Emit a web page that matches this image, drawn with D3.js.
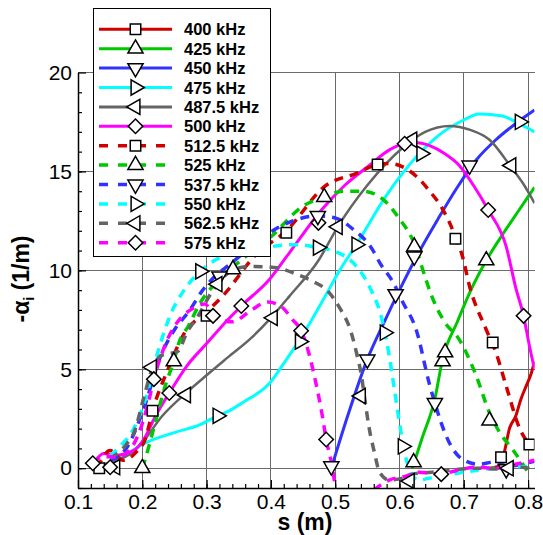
<!DOCTYPE html>
<html>
<head>
<meta charset="utf-8">
<script src="https://cdn.jsdelivr.net/npm/d3@7"></script>
<style>
body { margin: 0; background: #fff; }
text { font-family: "Liberation Sans", Arial, sans-serif; }
</style>
</head>
<body>
<script>
// frequencies in the legend order
var labels = ["400 kHz", "425 kHz", "450 kHz", "475 kHz", "487.5 kHz", "500 kHz",
              "512.5 kHz", "525 kHz", "537.5 kHz", "550 kHz", "562.5 kHz", "575 kHz"];

// curves, [s, -alpha_i]
var data400 = [[0.74,0],[0.755,0.1],[0.763,0.8],[0.771,2.0],[0.781,2.65],[0.789,3.5],[0.797,4.15],[0.805,4.8],[0.81,5.4]];
var data425 = [[0.62,0],[0.635,1.5],[0.655,3.5],[0.667,5.5],[0.69,7.4],[0.711,9.0],[0.735,10.5],[0.76,11.8],[0.785,13.0],[0.81,14.2]];
var data450 = [[0.494,0],[0.52,2.7],[0.55,5.5],[0.575,7.3],[0.6,9.0],[0.63,10.9],[0.66,12.6],[0.69,14.2],[0.72,15.6],[0.75,16.6],[0.78,17.4],[0.81,18.1]];
var data475 = [[0.155,0.4],[0.18,0.8],[0.2,1.2],[0.25,1.8],[0.29,2.2],[0.317,2.65],[0.335,2.9],[0.36,3.4],[0.38,3.8],[0.398,4.3],[0.42,5.3],[0.445,6.5],[0.488,8.9],[0.507,10.0],[0.533,11.3],[0.58,13.8],[0.628,15.8],[0.66,16.8],[0.7,17.6],[0.724,17.9],[0.76,17.8],[0.787,17.4],[0.81,17.0]];
var data487 = [[0.14,0.2],[0.16,0.4],[0.18,0.7],[0.2,1.3],[0.23,2.6],[0.268,3.8],[0.3,4.7],[0.333,5.6],[0.37,6.6],[0.4,7.6],[0.429,8.7],[0.475,10.55],[0.504,12.2],[0.55,14.3],[0.605,16.2],[0.64,17.0],[0.678,17.3],[0.71,17.1],[0.74,16.6],[0.774,15.2],[0.792,14.4],[0.81,13.4]];
var data500 = [[0.125,0.3],[0.14,0.75],[0.157,0.65],[0.187,0.9],[0.203,1.5],[0.22,2.6],[0.242,3.8],[0.27,5.2],[0.3,6.3],[0.333,7.5],[0.354,8.2],[0.398,9.55],[0.429,10.9],[0.48,13.1],[0.515,14.3],[0.553,15.3],[0.585,16.1],[0.608,16.4],[0.628,16.45],[0.647,16.3],[0.67,15.9],[0.693,15.3],[0.715,14.3],[0.738,13.05],[0.766,11.2],[0.781,9.1],[0.793,7.7],[0.802,6.2],[0.81,5.0]];
var data512 = [[0.13,0],[0.15,0.9],[0.17,0.4],[0.19,0.8],[0.205,1.5],[0.216,2.9],[0.24,5.0],[0.265,6.8],[0.3,7.9],[0.325,8.7],[0.377,10.8],[0.424,12.0],[0.486,14.3],[0.533,14.9],[0.566,15.35],[0.585,15.4],[0.6,15.3],[0.628,14.7],[0.647,14.0],[0.667,13.1],[0.687,11.7],[0.698,10.7],[0.709,9.2],[0.735,7.0],[0.75,5.85],[0.766,4.15],[0.787,2.0],[0.802,1.2]];
var data525 = [[0.2,0],[0.203,0.3],[0.216,1.8],[0.224,2.8],[0.237,4.3],[0.249,5.4],[0.257,6.35],[0.272,7.2],[0.289,8.3],[0.315,9.4],[0.361,10.7],[0.4,11.7],[0.45,13.25],[0.483,13.7],[0.512,14.0],[0.543,14.0],[0.574,13.6],[0.6,12.6],[0.621,11.5],[0.641,9.55],[0.649,8.8],[0.67,7.4],[0.693,6.5],[0.719,4.7],[0.74,2.8],[0.756,1.8],[0.776,0.95],[0.8,-0.2]];
var data537 = [[0.15,0.4],[0.177,1.1],[0.2,2.8],[0.229,5.7],[0.25,7.0],[0.273,7.95],[0.294,9.0],[0.31,9.6],[0.336,10.3],[0.37,11.2],[0.408,12.1],[0.434,12.5],[0.473,12.75],[0.5,12.65],[0.527,12.1],[0.558,11.05],[0.569,10.4],[0.59,9.4],[0.605,8.4],[0.626,7.0],[0.647,4.2],[0.655,3.3],[0.673,1.6],[0.698,0.45],[0.724,0.2],[0.745,0.3],[0.77,0.1],[0.79,0.2],[0.81,0.35]];
var data550 = [[0.15,0.6],[0.165,1.1],[0.185,1.9],[0.205,3.5],[0.224,5.85],[0.245,7.85],[0.265,9.0],[0.29,9.95],[0.315,10.55],[0.367,11.0],[0.44,11.3],[0.473,11.15],[0.496,11.0],[0.533,10.2],[0.553,9.2],[0.574,7.35],[0.584,5.7],[0.592,4.0],[0.6,2.3],[0.608,0.8],[0.616,-0.1],[0.63,-0.6],[0.647,-0.5],[0.683,-0.3],[0.72,-0.1],[0.77,0.05],[0.81,0.1]];
var data562 = [[0.15,0.5],[0.175,1.2],[0.187,1.8],[0.203,3.65],[0.215,5.0],[0.23,5.7],[0.255,5.9],[0.27,6.9],[0.285,7.6],[0.31,9.0],[0.34,10.0],[0.367,10.2],[0.405,10.15],[0.44,9.8],[0.465,9.45],[0.49,8.9],[0.507,8.1],[0.525,6.85],[0.533,5.85],[0.541,4.65],[0.546,3.5],[0.553,2.0],[0.561,0.8],[0.569,-0.2],[0.584,-0.6],[0.605,-0.5],[0.62,-0.3],[0.65,-0.2],[0.678,-0.1],[0.72,0],[0.76,-0.05],[0.79,0.05],[0.81,-0.1]];
var data575 = [[0.123,0.25],[0.14,0.6],[0.16,0.55],[0.18,0.9],[0.195,1.8],[0.21,3.4],[0.218,4.5],[0.235,6.2],[0.255,7.4],[0.275,8.0],[0.297,8.3],[0.315,7.6],[0.34,7.4],[0.37,8.0],[0.395,8.4],[0.415,8.2],[0.434,7.5],[0.447,6.95],[0.46,5.7],[0.47,4.3],[0.48,2.65],[0.486,1.45],[0.494,0.3],[0.501,-1.1],
               null,
               [0.56,-1.1],[0.584,-0.6],[0.61,-0.4],[0.63,-0.2],[0.665,-0.3],[0.69,-0.1],[0.72,0.05],[0.75,0],[0.78,0.2],[0.81,0.4]];

// symbol positions
var mark400 = [[0.133,0],[0.758,0.55]];
var mark425 = [[0.622,0.3],[0.667,5.4],[0.735,10.5]];
var mark450 = [[0.494,0.1],[0.55,5.5],[0.594,8.8],[0.623,10.7],[0.709,15.3]];
var mark475 = [[0.317,2.65],[0.445,6.4],[0.533,11.3],[0.634,15.9],[0.787,17.5]];
var mark487 = [[0.158,0.05],[0.268,3.7],[0.403,7.6],[0.504,12.2],[0.62,16.6],[0.774,15.3]];
var mark500 = [[0.15,0.05],[0.242,3.8],[0.354,8.2],[0.474,12.4],[0.608,16.4],[0.738,13.05],[0.793,7.7]];
var mark512 = [[0.216,2.9],[0.3,7.7],[0.424,11.9],[0.566,15.35],[0.687,11.6],[0.745,6.35],[0.802,1.2]];
var mark525 = [[0.2,0],[0.249,5.4],[0.341,10.05],[0.483,13.7],[0.623,11.2],[0.671,5.85],[0.74,2.4]];
var mark537 = [[0.32,9.7],[0.473,12.75],[0.655,3.3],[0.766,-0.05]];
var mark550 = [[0.29,9.95],[0.473,11.15],[0.577,6.85],[0.605,1.1]];
var mark562 = [[0.215,5.1],[0.317,9.3],[0.54,3.65],[0.616,-0.65],[0.77,0]];
var mark575 = [[0.123,0.25],[0.218,4.5],[0.31,7.7],[0.447,6.95],[0.486,1.45],[0.665,-0.3]];

var xTicks = [0.1, 0.2, 0.3, 0.4, 0.5, 0.6, 0.7, 0.8];
var yTicks = [0, 5, 10, 15, 20];

var curves = [data400, data425, data450, data475, data487, data500, data512, data525, data537, data550, data562, data575];
var marks = [mark400, mark425, mark450, mark475, mark487, mark500, mark512, mark525, mark537, mark550, mark562, mark575];

// styles
var colors = ["#d00000", "#00c800", "#3232ff", "#00ffff", "#646464", "#ff00ff",
              "#d00000", "#00c800", "#3232ff", "#00ffff", "#646464", "#ff00ff"];
var shapes = ["square", "up", "down", "right", "left", "diamond",
              "square", "up", "down", "right", "left", "diamond"];

var width = 543, height = 535;
var pLeft = 78, pRight = 534.5, pTop = 72.5, pBottom = 488;

var svg = d3.select("body").append("svg")
    .attr("width", width)
    .attr("height", height);

var x = d3.scaleLinear().domain([0.1, 0.81]).range([pLeft, pRight]);
var y = d3.scaleLinear().domain([-1, 20]).range([pBottom, pTop]);

svg.append("defs").append("clipPath").attr("id", "clip")
  .append("rect")
    .attr("x", pLeft).attr("y", pTop)
    .attr("width", pRight - pLeft).attr("height", pBottom - pTop);

// grid
var grid = svg.append("g").attr("shape-rendering", "crispEdges");
grid.selectAll(".vg").data(xTicks.slice(1)).enter().append("line")
    .attr("x1", function(d) { return x(d); }).attr("x2", function(d) { return x(d); })
    .attr("y1", pTop).attr("y2", pBottom)
    .attr("stroke", "#6a6a6a").attr("stroke-width", 1);
grid.selectAll(".hg").data(yTicks).enter().append("line")
    .attr("y1", function(d) { return y(d); }).attr("y2", function(d) { return y(d); })
    .attr("x1", pLeft).attr("x2", pRight)
    .attr("stroke", "#6a6a6a").attr("stroke-width", 1);

// curves
var line = d3.line()
    .defined(function(d) { return d != null; })
    .x(function(d) { return x(d[0]); })
    .y(function(d) { return y(d[1]); })
    .curve(d3.curveMonotoneX);

var plot = svg.append("g").attr("clip-path", "url(#clip)");

function isDashed(i) { return i >= 6; }

curves.forEach(function(c, i) {
  plot.append("path")
      .attr("d", line(c))
      .attr("fill", "none")
      .attr("stroke", colors[i])
      .attr("stroke-width", i == 4 ? 2.5 : (isDashed(i) ? 3.5 : 3))
      .attr("stroke-dasharray", isDashed(i) ? "9,7" : null);
});

function symbolPath(shape) {
  if (shape == "square") return d3.symbol(d3.symbolSquare, 110)();
  if (shape == "diamond") return d3.symbol(d3.symbolSquare, 105)();
  return d3.symbol(d3.symbolTriangle, 100)();
}
function symbolRotate(shape) {
  return {square: 0, diamond: 45, up: 0, down: 180, right: 90, left: -90}[shape];
}

marks.forEach(function(m, i) {
  plot.selectAll(null).data(m).enter().append("path")
      .attr("d", symbolPath(shapes[i]))
      .attr("transform", function(d) {
        return "translate(" + x(d[0]) + "," + y(d[1]) + ") rotate(" + symbolRotate(shapes[i]) + ")";
      })
      .attr("fill", "#fff")
      .attr("stroke", "#000")
      .attr("stroke-width", 1.5);
});

// axes
svg.append("g")
    .attr("transform", "translate(0," + pBottom + ")")
    .call(d3.axisBottom(x).tickValues(xTicks).tickSize(-8).tickSizeOuter(0).tickPadding(6)
      .tickFormat(d3.format(".1f")));
svg.append("g")
    .attr("transform", "translate(0," + pBottom + ")")
    .call(d3.axisBottom(x).tickValues(d3.range(0.12, 0.81, 0.02)).tickSize(-4).tickSizeOuter(0).tickFormat(""))
    .select(".domain").remove();

svg.append("g")
    .attr("transform", "translate(" + pLeft + ",0)")
    .call(d3.axisLeft(y).tickValues(yTicks).tickSize(-8).tickSizeOuter(0).tickPadding(6));
svg.append("g")
    .attr("transform", "translate(" + pLeft + ",0)")
    .call(d3.axisLeft(y).tickValues(d3.range(-1, 20, 1)).tickSize(-4).tickSizeOuter(0).tickFormat(""))
    .select(".domain").remove();

svg.selectAll(".domain").attr("stroke-width", 1.5);
svg.selectAll(".tick line").attr("stroke-width", 1.2);
svg.selectAll(".tick text")
    .attr("font-family", "Liberation Sans, Arial, sans-serif")
    .attr("font-size", 21)
    .attr("fill", "#000");

// axis titles
svg.append("text")
    .attr("x", 305).attr("y", 530)
    .attr("text-anchor", "middle")
    .attr("font-size", 23).attr("font-weight", "bold")
    .text("s (m)");

var yt = svg.append("text")
    .attr("transform", "translate(29,279) rotate(-90)")
    .attr("text-anchor", "middle")
    .attr("font-size", 23).attr("font-weight", "bold");
yt.append("tspan").text("-\u03b1");
yt.append("tspan").attr("font-size", 14).attr("dy", 5).text("i");
yt.append("tspan").attr("dy", -5).text(" (1/m)");

// legend
var legend = svg.append("g");
legend.append("rect")
    .attr("x", 93.5).attr("y", 8.5).attr("width", 177).attr("height", 248)
    .attr("fill", "#fff").attr("stroke", "#000").attr("stroke-width", 1);

labels.forEach(function(lab, i) {
  var ly = 29.3 + i * 19.4;
  legend.append("line")
      .attr("x1", 99).attr("x2", 172).attr("y1", ly).attr("y2", ly)
      .attr("stroke", colors[i])
      .attr("stroke-width", isDashed(i) ? 3.5 : 3)
      .attr("stroke-dasharray", isDashed(i) ? "9,10" : null);
  legend.append("path")
      .attr("d", symbolPath(shapes[i]))
      .attr("transform", "translate(135.5," + ly + ") rotate(" + symbolRotate(shapes[i]) + ")")
      .attr("fill", "#fff").attr("stroke", "#000").attr("stroke-width", 1.5);
  legend.append("text")
      .attr("x", 184).attr("y", ly + 6)
      .attr("font-size", 16.5).attr("font-weight", "bold")
      .text(lab);
});
</script>
</body>
</html>
